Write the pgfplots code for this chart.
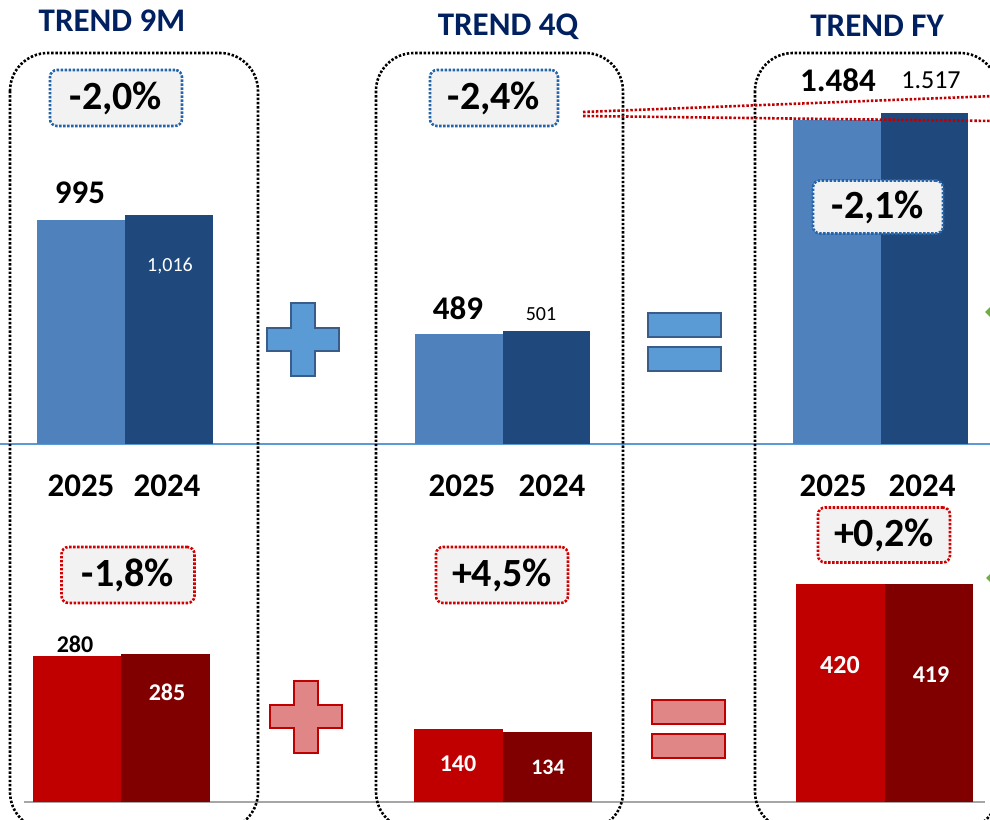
\documentclass[border=0pt]{standalone}
\usepackage{pgfplots}
\pgfplotsset{compat=1.18}
\usepackage{fontspec}
\setmainfont{Carlito}
\definecolor{navy}{RGB}{0,32,96}
\definecolor{blueA}{RGB}{79,129,189}
\definecolor{blueB}{RGB}{31,73,125}
\definecolor{redA}{RGB}{192,0,0}
\definecolor{redB}{RGB}{128,0,0}
\definecolor{sepblue}{RGB}{91,155,213}
\definecolor{boxgray}{RGB}{242,242,242}
\definecolor{boxblue}{RGB}{36,100,170}
\definecolor{boxred}{RGB}{210,0,0}
\definecolor{plusblue}{RGB}{91,155,213}
\definecolor{plusblueedge}{RGB}{56,93,138}
\definecolor{plusred}{RGB}{224,134,134}
\definecolor{baseGray}{RGB}{166,166,166}
\definecolor{arrowgreen}{RGB}{112,173,71}
\newcommand{\fs}[1]{\fontsize{#1}{#1}\selectfont}
\tikzset{
  pct/.style={line width=2.6pt, dash pattern=on 2.4pt off 1.6pt, rounded corners=7pt,
    fill=boxgray, minimum width=132pt, minimum height=56pt, inner sep=0pt,
    font=\bfseries\fs{40}},
  panel/.style={line width=2.6pt, dash pattern=on 2.4pt off 1.8pt, rounded corners=38pt},
}
\begin{document}
\begin{tikzpicture}
\useasboundingbox (0,0) rectangle (990pt,819pt);
\clip (0,0) rectangle (990pt,819pt);
% background decorations (pixel coordinates, origin top-left)
\begin{scope}[x=1pt,y=-1pt,shift={(0pt,819pt)}]
  \draw[sepblue, line width=1.6pt] (0,444) -- (990,444);
  \draw[baseGray, line width=2.5pt] (24,802) -- (985,802);
\end{scope}

% ---------- top (blue) bars ----------
\begin{axis}[at={(37pt,375pt)}, anchor=south west, x=88pt, y=0.2253pt,
  xmin=-0.5, xmax=1.5, ymin=0, ymax=1100, hide axis, clip=false]
  \addplot[ybar, bar width=1, bar shift=0pt, fill=blueA, draw=none] coordinates {(0,995)};
  \addplot[ybar, bar width=1, bar shift=0pt, fill=blueB, draw=none] coordinates {(1,1016)};
\end{axis}
\begin{axis}[at={(415pt,375pt)}, anchor=south west, x=87.5pt, y=0.2253pt,
  xmin=-0.5, xmax=1.5, ymin=0, ymax=1100, hide axis, clip=false]
  \addplot[ybar, bar width=1, bar shift=0pt, fill=blueA, draw=none] coordinates {(0,489)};
  \addplot[ybar, bar width=1, bar shift=0pt, fill=blueB, draw=none] coordinates {(1,501)};
\end{axis}
\begin{axis}[at={(793pt,375pt)}, anchor=south west, x=87.5pt, y=0.2185pt,
  xmin=-0.5, xmax=1.5, ymin=0, ymax=1600, hide axis, clip=false]
  \addplot[ybar, bar width=1, bar shift=0pt, fill=blueA, draw=none] coordinates {(0,1484)};
  \addplot[ybar, bar width=1, bar shift=0pt, fill=blueB, draw=none] coordinates {(1,1517)};
\end{axis}

% ---------- bottom (red) bars ----------
\begin{axis}[at={(33pt,17pt)}, anchor=south west, x=88.3pt, y=0.52pt,
  xmin=-0.5, xmax=1.5, ymin=0, ymax=450, hide axis, clip=false]
  \addplot[ybar, bar width=1, bar shift=0pt, fill=redA, draw=none] coordinates {(0,280)};
  \addplot[ybar, bar width=1, bar shift=0pt, fill=redB, draw=none] coordinates {(1,285)};
\end{axis}
\begin{axis}[at={(414pt,17pt)}, anchor=south west, x=89pt, y=0.52pt,
  xmin=-0.5, xmax=1.5, ymin=0, ymax=450, hide axis, clip=false]
  \addplot[ybar, bar width=1, bar shift=0pt, fill=redA, draw=none] coordinates {(0,140)};
  \addplot[ybar, bar width=1, bar shift=0pt, fill=redB, draw=none] coordinates {(1,134)};
\end{axis}
\begin{axis}[at={(796pt,17pt)}, anchor=south west, x=88.5pt, y=0.52pt,
  xmin=-0.5, xmax=1.5, ymin=0, ymax=450, hide axis, clip=false]
  \addplot[ybar, bar width=1, bar shift=0pt, fill=redA, draw=none] coordinates {(0,420)};
  \addplot[ybar, bar width=1, bar shift=0pt, fill=redB, draw=none] coordinates {(1,419)};
\end{axis}

% ---------- foreground decorations ----------
\begin{scope}[x=1pt,y=-1pt,shift={(0pt,819pt)}]
  % panels
  \draw[panel] (10,53) rectangle (258,830);
  \draw[panel] (376,53) rectangle (623,830);
  \draw[panel] (755,53) rectangle (998,830);
  % titles
  \node[font=\bfseries\fs{33}, text=navy] at (112,21) {TREND 9M};
  \node[font=\bfseries\fs{33}, text=navy] at (508,27) {TREND 4Q};
  \node[font=\bfseries\fs{33}, text=navy] at (877,26) {TREND FY};
  % red dotted trend lines
  \draw[redA, line width=2.6pt, dash pattern=on 2.5pt off 1.8pt] (583,112) -- (995,96);
  \draw[redA, line width=2.6pt, dash pattern=on 2.5pt off 1.8pt] (583,116) -- (995,121);
  % percentage boxes
  \node[pct, draw=boxblue] at (116,98) {-2,0\%};
  \node[pct, draw=boxblue, minimum width=128pt] at (494,98) {-2,4\%};
  \node[pct, draw=boxblue, minimum width=130pt, minimum height=53pt] at (878,207) {-2,1\%};
  \node[pct, draw=boxred, minimum width=133pt] at (128,575) {-1,8\%};
  \node[pct, draw=boxred] at (502,575) {+4,5\%};
  \node[pct, draw=boxred, minimum height=55pt] at (884,535) {+0,2\%};
  % plus signs
  \filldraw[fill=plusblue, draw=plusblueedge, line width=1.5pt]
    (291,303) -- (315,303) -- (315,328) -- (339,328) -- (339,351) -- (315,351) --
    (315,376) -- (291,376) -- (291,351) -- (267,351) -- (267,328) -- (291,328) -- cycle;
  \filldraw[fill=plusred, draw=redA, line width=1.5pt]
    (294,681) -- (318,681) -- (318,705) -- (342,705) -- (342,728) -- (318,728) --
    (318,753) -- (294,753) -- (294,728) -- (270,728) -- (270,705) -- (294,705) -- cycle;
  % equals signs
  \filldraw[fill=plusblue, draw=plusblueedge, line width=1.5pt] (648,313) rectangle (721,337);
  \filldraw[fill=plusblue, draw=plusblueedge, line width=1.5pt] (648,347) rectangle (721,371);
  \filldraw[fill=plusred, draw=redA, line width=1.5pt] (652,700) rectangle (725,724);
  \filldraw[fill=plusred, draw=redA, line width=1.5pt] (652,734) rectangle (725,758);
  % green arrow tips at right edge
  \fill[arrowgreen] (985,312) -- (991,306) -- (991,318) -- cycle;
  \fill[arrowgreen] (986,578) -- (991,573) -- (991,583) -- cycle;
  % years
  \foreach \x/\t in {81/2025,167/2024,462/2025,552/2024,833/2025,922/2024}
    \node[font=\bfseries\fs{33}] at (\x,486) {\t};
  % value labels, top
  \node[font=\bfseries\fs{33}] at (80,193) {995};
  \node[font=\fs{20}, text=white] at (170,266) {1,016};
  \node[font=\bfseries\fs{33}] at (458,308) {489};
  \node[font=\fs{20}] at (541,314) {501};
  \node[font=\bfseries\fs{33}] at (838,80) {1.484};
  \node[font=\fs{26}] at (931,80) {1.517};
  % value labels, bottom
  \node[font=\bfseries\fs{24}] at (75,644) {280};
  \node[font=\bfseries\fs{24}, text=white] at (167,692) {285};
  \node[font=\bfseries\fs{24}, text=white] at (458,764) {140};
  \node[font=\bfseries\fs{22}, text=white] at (548,767) {134};
  \node[font=\bfseries\fs{26}, text=white] at (840,665) {420};
  \node[font=\bfseries\fs{24}, text=white] at (931,675) {419};
\end{scope}
\end{tikzpicture}
\end{document}
